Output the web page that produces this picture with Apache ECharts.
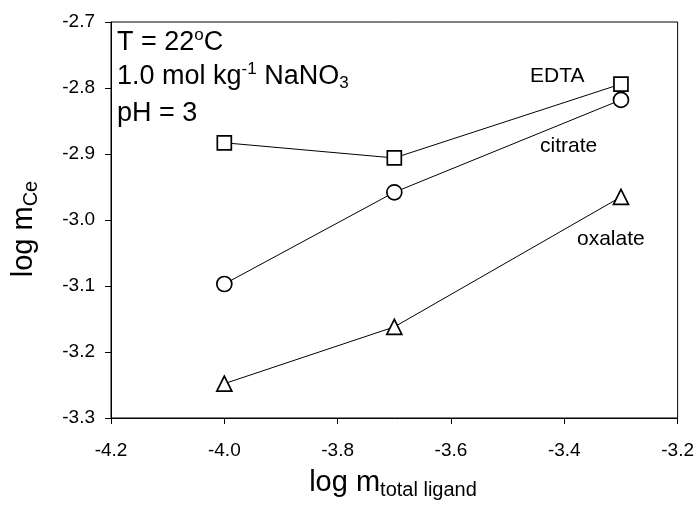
<!DOCTYPE html>
<html><head><meta charset="utf-8">
<script src="https://cdn.jsdelivr.net/npm/echarts@6/dist/echarts.min.js"></script>
<style>html,body{margin:0;padding:0;background:#fff}#c{width:697px;height:506px}</style>
</head><body><div id="c"></div>
<script>
const xValues = [-4.0, -3.7, -3.3];
const edta = [-2.883, -2.906, -2.794];
const citrate = [-3.097, -2.958, -2.818];
const oxalate = [-3.248, -3.162, -2.965];
const xTicks = [-4.2, -4.0, -3.8, -3.6, -3.4, -3.2];
const yTicks = [-2.7, -2.8, -2.9, -3.0, -3.1, -3.2, -3.3];

const chart = echarts.init(document.getElementById('c'));
const F = 'Liberation Sans, Arial, sans-serif';
function mk(vals, sym, size) {
  return {
    type: 'line', data: xValues.map((x, i) => [x, vals[i]]),
    symbol: sym, symbolSize: size, showAllSymbol: true,
    lineStyle: {color: '#000', width: 1},
    itemStyle: {color: '#fff', borderColor: '#000', borderWidth: 1.7},
    z: 3
  };
}
const sup = {fontSize: 17, fontFamily: F, fill: '#000', padding: [0, 0, 14, 0]};
const sub = {fontSize: 17, fontFamily: F, fill: '#000', padding: [14, 0, 0, 0]};
const nrm = {fontSize: 27, fontFamily: F, fill: '#000'};
chart.setOption({
  animation: false,
  grid: {left: 111, right: 19, top: 22, bottom: 88, show: true, borderColor: '#000', borderWidth: 1},
  xAxis: {
    type: 'value', min: -4.2, max: -3.2, interval: 0.2,
    axisLine: {lineStyle: {color: '#000'}},
    axisTick: {inside: false, length: 6, lineStyle: {color: '#000'}},
    splitLine: {show: false},
    axisLabel: {color: '#000', fontSize: 19, fontFamily: F, margin: 23, formatter: v => v.toFixed(1)}
  },
  yAxis: {
    type: 'value', min: -3.3, max: -2.7, interval: 0.1,
    axisLine: {lineStyle: {color: '#000'}},
    axisTick: {inside: false, length: 6, lineStyle: {color: '#000'}},
    splitLine: {show: false},
    axisLabel: {color: '#000', fontSize: 19, fontFamily: F, margin: 16, formatter: v => v.toFixed(1)}
  },
  series: [mk(edta, 'rect', 14), mk(citrate, 'circle', 15), mk(oxalate, 'triangle', 15)],
  graphic: [
    {type: 'text', left: 117, top: 27, style: {
      text: '{n|T = 22}{s|o}{n|C}', rich: {n: nrm, s: sup}}},
    {type: 'text', left: 117, top: 61, style: {
      text: '{n|1.0 mol kg}{s|-1}{n| NaNO}{b|3}', rich: {n: nrm, s: sup, b: sub}}},
    {type: 'text', left: 117, top: 100, style: {text: 'pH = 3', fontSize: 27, fontFamily: F, fill: '#000'}},
    {type: 'text', left: 530, top: 66, style: {text: 'EDTA', fontSize: 21, fontFamily: F, fill: '#000'}},
    {type: 'text', left: 540, top: 136, style: {text: 'citrate', fontSize: 21, fontFamily: F, fill: '#000'}},
    {type: 'text', left: 577, top: 229, style: {text: 'oxalate', fontSize: 21, fontFamily: F, fill: '#000'}},
    {type: 'text', x: 24, y: 229, rotation: Math.PI / 2, style: {
      text: '{n|log m}{b|Ce}', align: 'center', verticalAlign: 'middle',
      rich: {n: {fontSize: 29, fontFamily: F, fill: '#000'}, b: {fontSize: 20, fontFamily: F, fill: '#000', padding: [14, 0, 0, 0]}}}},
    {type: 'text', x: 393, y: 483, style: {
      text: '{n|log m}{b|total ligand}', align: 'center', verticalAlign: 'middle',
      rich: {n: {fontSize: 29, fontFamily: F, fill: '#000'}, b: {fontSize: 20, fontFamily: F, fill: '#000', padding: [14, 0, 0, 0]}}}}
  ]
});
</script></body></html>
